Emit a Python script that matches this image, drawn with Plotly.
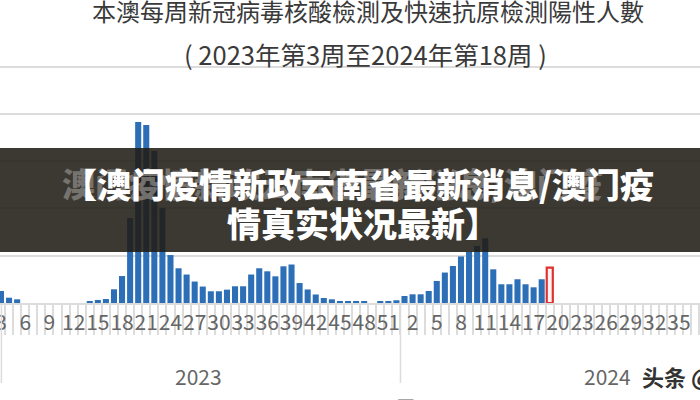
import plotly.graph_objects as go

# ---- data ----
weeks_2023 = list(range(3, 53))          # 2023 week 3 .. 52
weeks_2024 = list(range(1, 53))          # 2024 week 1 .. 52
week_labels = [str(w) for w in weeks_2023 + weeks_2024]
year_labels = ["2023", "2024"]

# weekly positives, 2023 w3 .. 2024 w18
positives = [127, 56, 39, 0, 0, 0, 0, 0, 0, 0, 0,
             21, 32, 42, 145, 285, 898, 1913, 1881, 1607, 1004,
             507, 367, 301, 227, 174, 124, 124, 141, 177, 177,
             301, 367, 335, 282, 388, 407, 211, 143, 90, 53,
             39, 21, 14, 14, 14, 0, 14, 16, 29, 74,
             92, 92, 127, 233, 322, 391, 492, 542, 603, 684,
             356, 198, 198, 251, 198, 166, 251]
latest_value = [373]   # highlighted (red outlined) week

title_text = "本澳每周新冠病毒核酸檢測及快速抗原檢測陽性人數"
subtitle_text = "( 2023年第3周至2024年第18周 )"
banner_line1 = "【澳门疫情新政云南省最新消息/澳门疫"
banner_ghost = "澳门疫情新政云南省最新消息/澳门疫"
banner_line2 = "情真实状况最新】"
axis_title = "周"
watermark = "头条 @"

# ---- figure ----
n_cat = len(week_labels)
x_main = list(range(len(positives)))
x_latest = [len(positives)]

W, H = 700, 400
M_T, M_B = 60, 97
plot_h = H - M_T - M_B
base_px = H - M_B                 # pixel row of value 0
px_per_unit = 236.5 / 2500        # 2500 sits at pixel row ~66.5
y_top = plot_h / px_per_unit
px_per_cat = 8.07
x0 = -1 / px_per_cat
x1 = x0 + W / px_per_cat


def py(pixel_y):
    """pixel row -> paper y"""
    return (base_px - pixel_y) / plot_h


fig = go.Figure()
fig.add_trace(go.Bar(x=x_main, y=positives, width=0.75,
                     marker=dict(color="#2d6fb7", line=dict(width=0)),
                     showlegend=False))
fig.add_trace(go.Bar(x=x_latest, y=latest_value, width=0.75,
                     marker=dict(color="rgba(255,245,245,1)",
                                 line=dict(color="#e0302f", width=2.2)),
                     showlegend=False))

grid = "#dcdcdc"
fig.update_layout(
    width=W, height=H,
    margin=dict(l=0, r=0, t=M_T, b=M_B, pad=0, autoexpand=False),
    paper_bgcolor="white", plot_bgcolor="white",
    barmode="overlay",
    font=dict(family="Noto Sans CJK SC", color="#595959"),
    xaxis=dict(
        range=[x0, x1],
        automargin=False,
        tickmode="array",
        tickvals=list(range(0, n_cat, 3)),
        ticktext=week_labels[::3],
        tickangle=0,
        ticks="",
        ticklabeloverflow="allow",
        tickfont=dict(size=21, color="#666666", family="Noto Sans CJK SC"),
        showgrid=False,
        zeroline=False,
        showline=True, linecolor=grid, linewidth=1.5,
        minor=dict(tickvals=[i - 0.5 for i in range(n_cat + 1)],
                   ticks="outside", ticklen=30, tickwidth=1.5,
                   tickcolor=grid, showgrid=False),
    ),
    yaxis=dict(
        range=[0, y_top], tickmode="array",
        tickvals=[0, 500, 1000, 1500, 2000, 2500],
        showticklabels=False, ticks="", automargin=False,
        showgrid=True, gridcolor=grid, gridwidth=1.5,
        zeroline=False,
    ),
)

# group separators under the axis
sep_bottom = py(383)
fig.add_shape(type="line", xref="x", yref="paper",
              x0=len(weeks_2023) - 0.5, x1=len(weeks_2023) - 0.5,
              y0=0, y1=sep_bottom, line=dict(color=grid, width=1.5))
fig.add_shape(type="line", xref="paper", yref="paper",
              x0=0.002, x1=0.002, y0=0, y1=sep_bottom,
              line=dict(color=grid, width=1.5))


def note(x, y, text, size, color, xref="paper", xanchor="center",
         yanchor="middle", family=None, weight=None):
    f = dict(size=size, color=color)
    if family:
        f["family"] = family
    if weight:
        f["weight"] = weight
    fig.add_annotation(x=x, xref=xref, y=y, yref="paper", text=text,
                       showarrow=False, xanchor=xanchor, yanchor=yanchor,
                       font=f)


# year labels / axis title / watermark
note((len(weeks_2023) - 1) / 2, py(376), year_labels[0], 21, "#666666", xref="x")
note(len(weeks_2023) + (len(weeks_2024) - 1) / 2 - 0.4, py(376), year_labels[1],
     21, "#666666", xref="x")
note(405 / W, py(390), axis_title, 21, "#666666", yanchor="top")
note(640 / W, py(376), watermark, 22, "#333333", xanchor="left", weight="bold")

# titles
note(368 / W, py(11), title_text, 24, "#3a3a3a", family="Noto Sans CJK TC")
note(365 / W, py(53), subtitle_text, 25.5, "#3a3a3a", family="Noto Sans CJK TC")

# dark banner overlay
fig.add_shape(type="rect", xref="paper", yref="paper",
              x0=0, x1=1, y0=py(252), y1=py(148),
              fillcolor="rgba(33,28,22,0.88)", line=dict(width=0), layer="above")
note(60 / W, py(183), banner_ghost, 33, "rgba(135,132,128,0.8)",
     xanchor="left", weight=900)
note(358 / W, py(183), banner_line1, 34, "white", weight=900)
note(363 / W, py(222), banner_line2, 34, "white", weight=900)

fig.write_html("out.html",
               config={"displayModeBar": False},
               post_script="document.body.style.margin='0px';"
                           "document.body.style.padding='0px';")
